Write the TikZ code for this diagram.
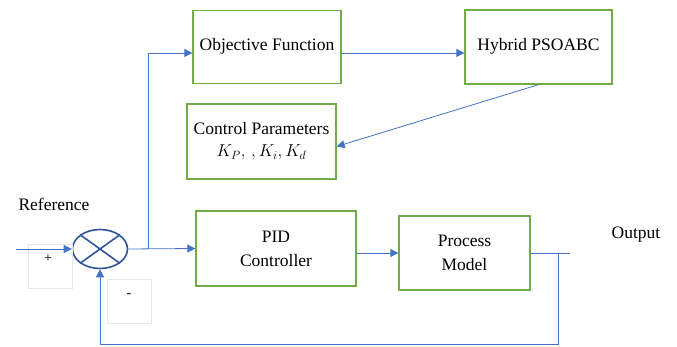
\documentclass[tikz,border=0pt]{standalone}
\usepackage{fontspec}
\setmainfont{Liberation Serif}
\usepackage{amsmath, amssymb}
\usetikzlibrary{arrows.meta, shapes.geometric}
\definecolor{blue3}{HTML}{4472C4}
\definecolor{navy3}{HTML}{2F5597}
\definecolor{green3}{HTML}{70AD47}
\definecolor{gray3}{HTML}{E6E6E6}

\begin{document}
\begin{tikzpicture}[x=1pt, y=-1pt, every node/.style={font=\fontsize{17.5}{24}\selectfont},
    blk/.style={draw=green3, line width=1.3pt, align=center, inner sep=0pt},
    sgnbox/.style={draw=gray3, line width=0.8pt, minimum size=44pt, inner sep=0pt},
    arr/.style={-{Triangle[width=8pt,length=8pt]}, blue3, line width=0.8pt}]

    \useasboundingbox (0,0) rectangle (677,347);

    % Draw the blocks
    \node[blk, minimum width=148pt, minimum height=73pt] (obj) at (267,47) {\raisebox{5pt}{Objective Function}};
    \node[blk, minimum width=147pt, minimum height=74pt] (hyb) at (538.5,47) {\raisebox{6pt}{Hybrid PSOABC}};
    \node[blk, minimum width=149pt, minimum height=75pt] (ctrl) at (261.5,141.5) {Control Parameters\\[-2pt] $K_P,\,,K_i,K_d$};
    \node[blk, minimum width=160pt, minimum height=75pt] (pid) at (276,248.5) {PID\\ Controller};
    \node[blk, minimum width=131pt, minimum height=74pt] (proc) at (464.5,253) {Process\\ Model};

    % Draw the summing junction
    \node[ellipse, draw=navy3, line width=1.6pt, minimum width=55pt, minimum height=39pt] (sum) at (100,249) {};
    \draw[navy3, line width=1.6pt] (sum.north west) -- (sum.south east);
    \draw[navy3, line width=1.6pt] (sum.north east) -- (sum.south west);

    % Sign boxes
    \node[sgnbox] (plus) at (50,266) {};
    \node[font=\fontsize{14}{16}\selectfont] (plustxt) at (48,259) {+};
    \node[sgnbox] (minus) at (129.5,301) {};
    \node[font=\fontsize{14}{16}\selectfont] (minustxt) at (129,296) {-};

    % Labels
    \node (ref) at (54,204) {Reference};
    \node (outtxt) at (636,235) {Output};

    % Signal lines
    \coordinate (in) at (16,249);
    \coordinate (br) at (148,249);
    \coordinate (out) at (570,253);
    \coordinate (fb) at (558,253);
    \coordinate (bot) at (0,344);
    \draw[arr] (in) -- (sum.west);
    \draw[arr] (sum.east) -- (pid.west);
    \draw[arr] (br) |- ([yshift=-6pt]obj.west);
    \draw[arr] ([yshift=-6pt]obj.east) -- ([yshift=-6pt]hyb.west);
    \draw[arr] (hyb.south) -- ([yshift=-5pt]ctrl.east);
    \draw[arr] (pid.east |- proc.west) -- (proc.west);
    \draw[blue3, line width=0.8pt] (proc.east) -- (out);
    \draw[arr] (fb) |- (sum.south |- bot) -- (sum.south);

\end{tikzpicture}
\end{document}
